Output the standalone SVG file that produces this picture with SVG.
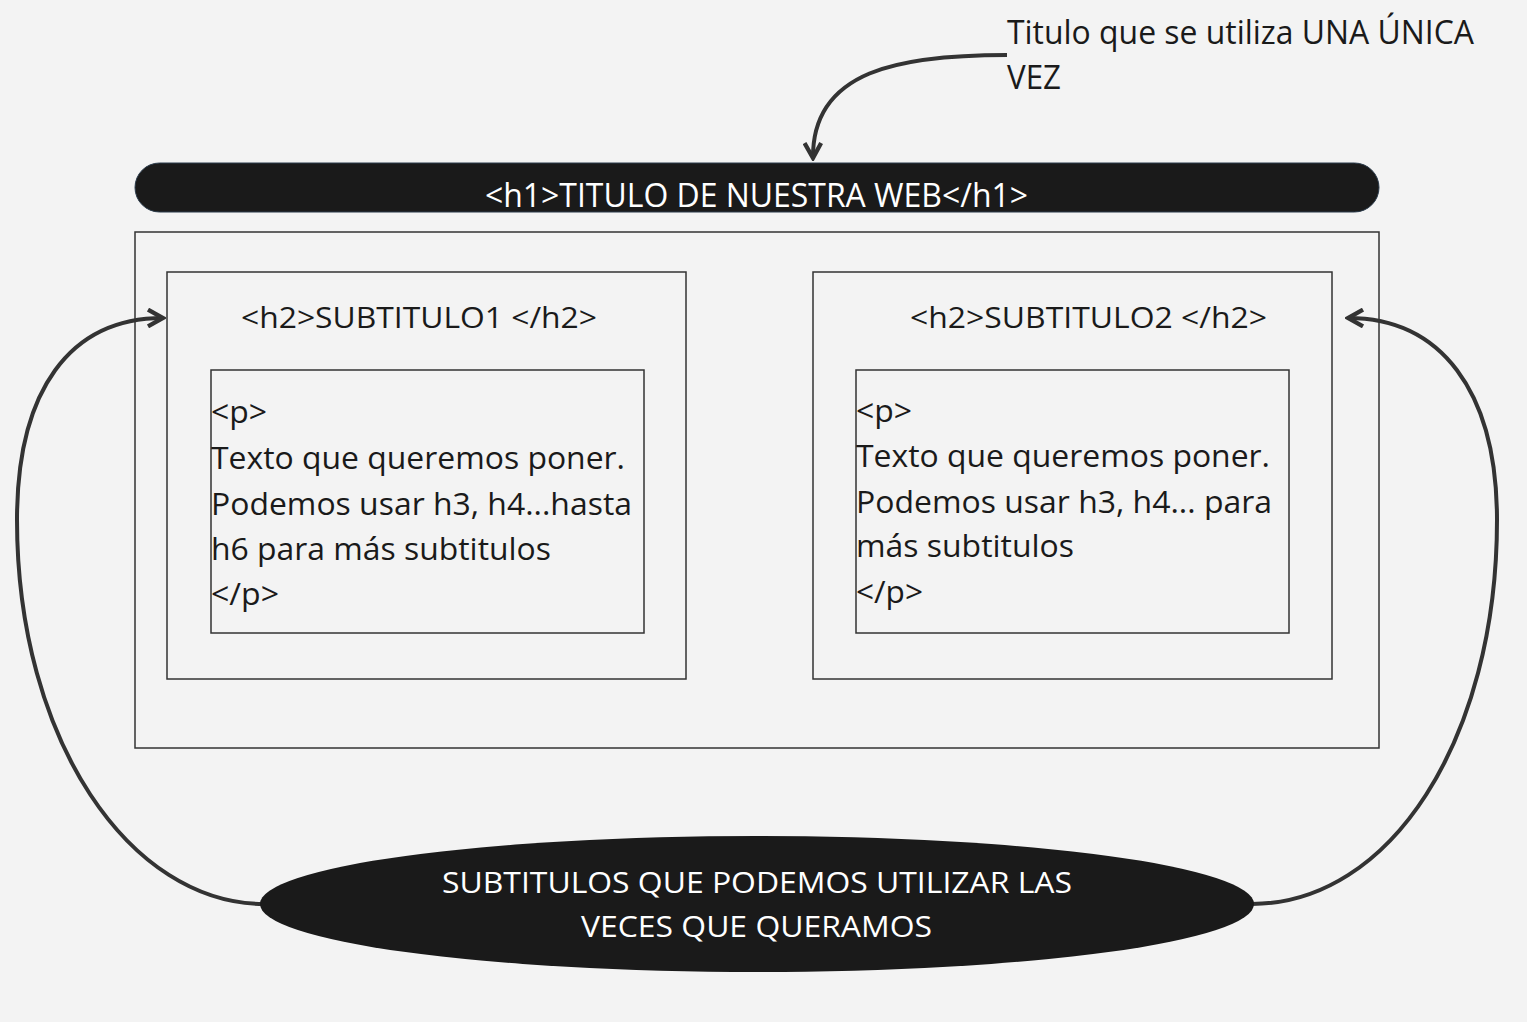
<svg xmlns="http://www.w3.org/2000/svg" width="1527" height="1022" viewBox="0 0 1527 1022">
<defs>
<style>
.t{font-family:"Open Sans","Liberation Sans",sans-serif;fill:#1a1a1a;}
.w{font-family:"Open Sans","Liberation Sans",sans-serif;fill:#ffffff;}
.box{fill:none;stroke:#333333;stroke-width:1.5;}
.con{fill:none;stroke:#333333;stroke-width:4;}
</style>
<marker id="ah" viewBox="0 0 12 12" refX="10" refY="6" markerWidth="5" markerHeight="5" orient="auto" markerUnits="strokeWidth">
<path d="M1,1 L10,6 L1,11" fill="none" stroke="#333333" stroke-width="2.6" stroke-linejoin="miter"/>
</marker>
</defs>
<rect width="1527" height="1022" fill="#f3f3f3"/>
<g id="note">
<text class="t" x="1007" y="44" font-size="32" textLength="467" lengthAdjust="spacingAndGlyphs">Titulo que se utiliza UNA ÚNICA</text>
<text class="t" x="1007" y="89" font-size="32" textLength="54" lengthAdjust="spacingAndGlyphs">VEZ</text>
</g>
<g id="h1">
<rect x="135" y="163" width="1244" height="49" rx="24.5" fill="#1a1a1a" stroke="#2a3a4a" stroke-width="1"/>
<text class="w" x="485" y="207" font-size="32" textLength="543" lengthAdjust="spacingAndGlyphs">&lt;h1&gt;TITULO DE NUESTRA WEB&lt;/h1&gt;</text>
</g>
<g id="container">
<rect class="box" x="135" y="232" width="1244" height="516"/>
</g>
<g id="section1">
<rect class="box" x="167" y="272" width="519" height="407"/>
<text class="t" x="241" y="328" font-size="30" textLength="356" lengthAdjust="spacingAndGlyphs">&lt;h2&gt;SUBTITULO1 &lt;/h2&gt;</text>
</g>
<g id="p1">
<rect class="box" x="211" y="370" width="433" height="263"/>
<text class="t" x="211" y="423" font-size="31" textLength="56" lengthAdjust="spacingAndGlyphs">&lt;p&gt;</text>
<text class="t" x="211" y="469" font-size="31" textLength="414" lengthAdjust="spacingAndGlyphs">Texto que queremos poner.</text>
<text class="t" x="211" y="515" font-size="31" textLength="421" lengthAdjust="spacingAndGlyphs">Podemos usar h3, h4...hasta</text>
<text class="t" x="211" y="560" font-size="31" textLength="340" lengthAdjust="spacingAndGlyphs">h6 para más subtitulos</text>
<text class="t" x="211" y="605" font-size="31" textLength="68" lengthAdjust="spacingAndGlyphs">&lt;/p&gt;</text>
</g>
<g id="section2">
<rect class="box" x="813" y="272" width="519" height="407"/>
<text class="t" x="910" y="328" font-size="30" textLength="357" lengthAdjust="spacingAndGlyphs">&lt;h2&gt;SUBTITULO2 &lt;/h2&gt;</text>
</g>
<g id="p2">
<rect class="box" x="856" y="370" width="433" height="263"/>
<text class="t" x="856" y="422" font-size="31" textLength="56" lengthAdjust="spacingAndGlyphs">&lt;p&gt;</text>
<text class="t" x="856" y="467" font-size="31" textLength="414" lengthAdjust="spacingAndGlyphs">Texto que queremos poner.</text>
<text class="t" x="856" y="513" font-size="31" textLength="416" lengthAdjust="spacingAndGlyphs">Podemos usar h3, h4... para</text>
<text class="t" x="856" y="557" font-size="31" textLength="218" lengthAdjust="spacingAndGlyphs">más subtitulos</text>
<text class="t" x="856" y="603" font-size="31" textLength="67" lengthAdjust="spacingAndGlyphs">&lt;/p&gt;</text>
</g>
<g id="connectors">
<path class="con" d="M1007,55 C900,55 812,70 813,158" marker-end="url(#ah)"/>
<path class="con" d="M264,904 C130,904 17,740 17,520 C17,390 70,318 163,318" stroke-width="3.5" marker-end="url(#ah)"/>
<path class="con" d="M1252,904 C1390,904 1497,740 1497,520 C1497,390 1440,318 1348,318" stroke-width="3.5" marker-end="url(#ah)"/>
</g>
<g id="subtitulos">
<ellipse cx="757" cy="904" rx="497" ry="68" fill="#1a1a1a"/>
<text class="w" x="442" y="893" font-size="30" textLength="630" lengthAdjust="spacingAndGlyphs">SUBTITULOS QUE PODEMOS UTILIZAR LAS</text>
<text class="w" x="581" y="937" font-size="30" textLength="351" lengthAdjust="spacingAndGlyphs">VECES QUE QUERAMOS</text>
</g>
</svg>
